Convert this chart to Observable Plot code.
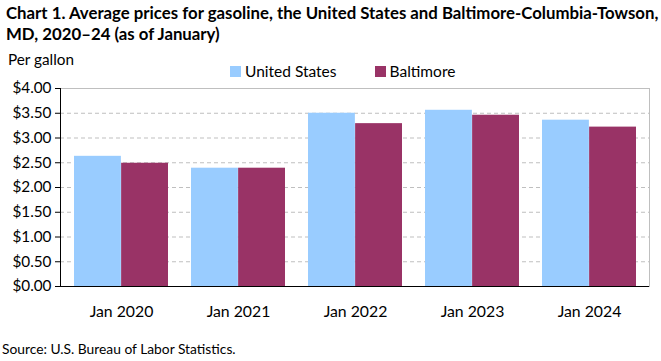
<!DOCTYPE html>
<html><head><meta charset="utf-8">
<script src="https://cdn.jsdelivr.net/npm/d3@7"></script>
<script src="https://cdn.jsdelivr.net/npm/@observablehq/plot@0.6"></script>
<style>
body{margin:0;background:#fff;font-family:Lato,"Open Sans",sans-serif;}
#wrap{position:relative;width:661px;height:361px;overflow:hidden;}
#title{position:absolute;left:6px;top:2px;font-weight:bold;font-size:16.8px;line-height:21px;color:#000;white-space:nowrap;}
#unit{position:absolute;left:8px;top:50px;font-size:15.3px;}
#legend{position:absolute;top:62px;left:230px;font-size:15.5px;display:flex;gap:0;}
.li{display:flex;align-items:center;margin-right:38px;}
.sw{width:11px;height:11px;margin-right:4px;}
#source{position:absolute;left:2px;top:340px;font-size:13.8px;}
#chart{position:absolute;left:0;top:0;}
</style></head>
<body><div id="wrap"><div id="chart"></div>
<div id="title">Chart 1. Average prices for gasoline, the United States and Baltimore-Columbia-Towson,<br>MD, 2020–24 (as of January)</div>
<div id="unit">Per gallon</div>
<div id="legend"></div>
<div id="source">Source: U.S. Bureau of Labor Statistics.</div>
</div>
<script>
const years = ["Jan 2020","Jan 2021","Jan 2022","Jan 2023","Jan 2024"];
const unitedStates = [2.63, 2.39, 3.50, 3.56, 3.36];
const baltimore = [2.49, 2.39, 3.29, 3.46, 3.22];
const seriesNames = ["United States","Baltimore"];
const colors = ["#99ccff","#993366"];
const yTicks = [0,0.5,1,1.5,2,2.5,3,3.5,4];

const W = 661, H = 361, mL = 60, mR = 12, mT = 88, mB = 75;
const data = years.map((y,i)=>({year:y, us:unitedStates[i], balt:baltimore[i]}));
const bw = d3.scaleBand().domain(years).range([mL, W-mR]).paddingInner(0.2).paddingOuter(0.1).bandwidth();

const plot = Plot.plot({
  width: W, height: H, marginLeft: mL, marginRight: mR, marginTop: mT, marginBottom: mB,
  style: {fontFamily: "Lato, 'Open Sans', sans-serif", fontSize: "15px", color: "#000", background: "transparent"},
  x: {domain: years, paddingInner: 0.2, paddingOuter: 0.1, label: null},
  y: {domain: [0,4], label: null},
  marks: [
    Plot.gridY(yTicks.filter(t=>t>0 && t<4), {stroke:"#bfbfbf", strokeOpacity:1, strokeDasharray:"4,3"}),
    Plot.frame({stroke:"#bfbfbf"}),
    Plot.barY(data, {x:"year", y:"us", fill: colors[0], insetRight: bw/2}),
    Plot.barY(data, {x:"year", y:"balt", fill: colors[1], insetLeft: bw/2}),
    Plot.frame({anchor:"left", stroke:"#000"}),
    Plot.ruleY([0], {stroke:"#000"}),
    Plot.axisY({ticks: yTicks, tickSize: 5, tickPadding: 4, tickFormat: d=>"$"+d.toFixed(2), fontSize: 15.3, label: null, stroke:"#000"}),
    Plot.axisX({tickSize: 0, tickPadding: 19, fontSize: 15.8, label: null})
  ]
});
document.getElementById("chart").appendChild(plot);

const lg = document.getElementById("legend");
seriesNames.forEach((n,i)=>{
  const d = document.createElement("div"); d.className="li";
  d.innerHTML = `<span class="sw" style="background:${colors[i]}"></span><span>${n}</span>`;
  lg.appendChild(d);
});
</script></body></html>
